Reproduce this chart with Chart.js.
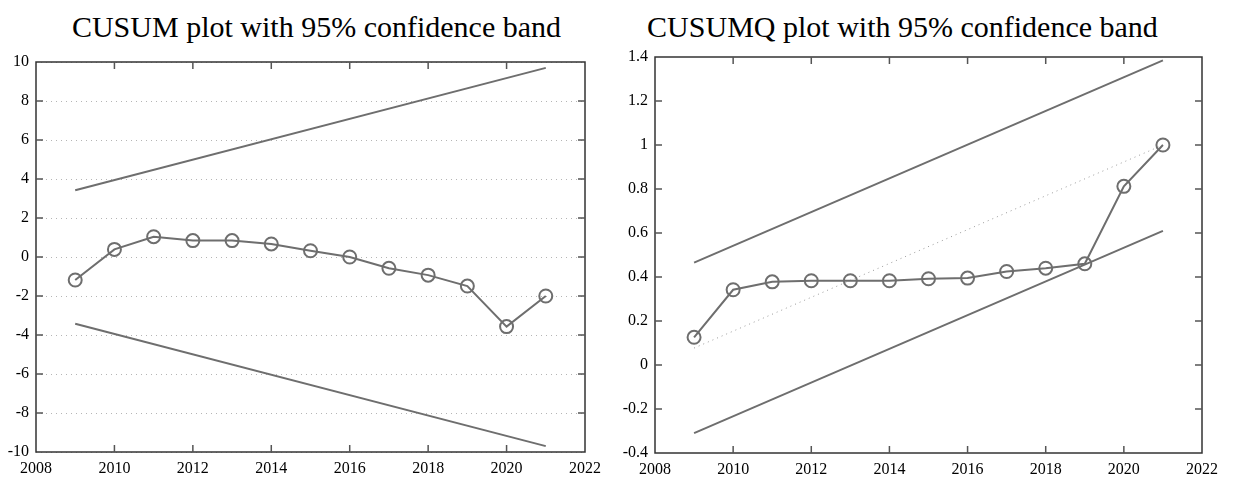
<!DOCTYPE html>
<html>
<head>
<meta charset="utf-8">
<script src="https://cdn.jsdelivr.net/npm/chart.js@4"></script>
<style>
  body { margin: 0; background: #fff; width: 1234px; height: 491px; overflow: hidden; position: relative; }
  .titulo { position: absolute; top: 12px; width: 617px; text-align: center;
            font-family: "Liberation Serif", "DejaVu Serif", serif; font-size: 30px; line-height: 30px; color: #000; }
  .painel { position: absolute; top: 0; width: 617px; height: 491px; }
</style>
</head>
<body>
<div class="titulo" style="left:8px">CUSUM plot with 95% confidence band</div>
<div class="titulo" style="left:594px">CUSUMQ plot with 95% confidence band</div>
<div class="painel" style="left:0"><canvas id="chartCusum" width="617" height="491"></canvas></div>
<div class="painel" style="left:617px"><canvas id="chartCusumq" width="617" height="491"></canvas></div>

<script>
// Dados
const years = [2009, 2010, 2011, 2012, 2013, 2014, 2015, 2016, 2017, 2018, 2019, 2020, 2021];
const cusum = [-1.18, 0.39, 1.04, 0.84, 0.84, 0.67, 0.32, 0.0, -0.58, -0.93, -1.49, -3.57, -2.0];
const cusumUpper = [3.42, 9.7];   // primeiro e último ano
const cusumLower = [-3.42, -9.7];
const cusumq = [0.126, 0.342, 0.378, 0.383, 0.383, 0.383, 0.392, 0.395, 0.425, 0.44, 0.46, 0.812, 1.0];
const cusumqUpper = [0.465, 1.385];
const cusumqLower = [-0.31, 0.61];
const cusumqMean = [0.077, 1.0];

const xTicks = [2008, 2010, 2012, 2014, 2016, 2018, 2020, 2022];
const cusumYTicks = [-10, -8, -6, -4, -2, 0, 2, 4, 6, 8, 10];
const cusumqYTicks = [-0.4, -0.2, 0, 0.2, 0.4, 0.6, 0.8, 1, 1.2, 1.4];

const cinza = '#6e6e6e';
Chart.defaults.font.family = 'Liberation Serif, serif';
const fonteTicks = { family: 'Liberation Serif, serif', size: 16 };

const pares = (xs, ys) => xs.map((x, i) => ({ x: x, y: ys[i] }));
const extremos = ys => [{ x: years[0], y: ys[0] }, { x: years[years.length - 1], y: ys[1] }];

// Moldura estilo gnuplot: caixa e ticks para dentro nos quatro lados
const moldura = {
    id: 'moldura',
    afterDraw(chart) {
        const { ctx, chartArea: a, scales } = chart;
        ctx.save();
        ctx.strokeStyle = '#333';
        ctx.lineWidth = 1.5;
        ctx.strokeRect(a.left, a.top, a.right - a.left, a.bottom - a.top);
        ctx.strokeStyle = '#555';
        ctx.lineWidth = 1.5;
        const t = 7;
        ctx.beginPath();
        scales.x.ticks.forEach(tk => {
            const px = scales.x.getPixelForValue(tk.value);
            if (px <= a.left + 1 || px >= a.right - 1) return;
            ctx.moveTo(px, a.bottom); ctx.lineTo(px, a.bottom - t);
            ctx.moveTo(px, a.top); ctx.lineTo(px, a.top + t);
        });
        scales.y.ticks.forEach(tk => {
            const py = scales.y.getPixelForValue(tk.value);
            if (py <= a.top + 1 || py >= a.bottom - 1) return;
            ctx.moveTo(a.left, py); ctx.lineTo(a.left + t, py);
            ctx.moveTo(a.right, py); ctx.lineTo(a.right - t, py);
        });
        ctx.stroke();
        ctx.restore();
    }
};

function criarGrafico(id, serie, upper, lower, mean, yTicks, area, comGrade) {
    const datasets = [{
        data: pares(years, serie),
        borderColor: cinza,
        borderWidth: 2,
        pointRadius: 6.5,
        pointBorderWidth: 2,
        pointBorderColor: cinza,
        pointBackgroundColor: 'rgba(255,255,255,0)'
    }, {
        data: extremos(upper), borderColor: cinza, borderWidth: 2, pointRadius: 0
    }, {
        data: extremos(lower), borderColor: cinza, borderWidth: 2, pointRadius: 0
    }];
    if (mean) {
        datasets.push({
            data: extremos(mean), borderColor: '#999', borderWidth: 1,
            borderDash: [1, 4], pointRadius: 0
        });
    }
    return new Chart(document.getElementById(id), {
        type: 'line',
        data: { datasets: datasets },
        options: {
            responsive: false,
            animation: false,
            layout: { padding: { top: area.top, right: area.right, left: 0, bottom: 0 } },
            plugins: { legend: { display: false }, tooltip: { enabled: false } },
            scales: {
                x: {
                    type: 'linear',
                    min: xTicks[0], max: xTicks[xTicks.length - 1],
                    afterBuildTicks: s => { s.ticks = xTicks.map(v => ({ value: v })); },
                    afterFit: s => { s.height = area.xh; },
                    ticks: { color: '#000', font: fonteTicks, padding: 7, maxRotation: 0, autoSkip: false,
                             callback: v => String(v) },
                    grid: { display: false, drawTicks: false },
                    border: { display: false }
                },
                y: {
                    min: yTicks[0], max: yTicks[yTicks.length - 1],
                    afterBuildTicks: s => { s.ticks = yTicks.map(v => ({ value: v })); },
                    afterFit: s => { s.width = area.yw; },
                    ticks: { color: '#000', font: fonteTicks, padding: 7, autoSkip: false,
                             callback: v => String(v) },
                    grid: { display: comGrade, drawTicks: false, color: '#b5b5b5', lineWidth: 1 },
                    border: { display: false, dash: [1, 4] }
                }
            }
        },
        plugins: [moldura]
    });
}

criarGrafico('chartCusum', cusum, cusumUpper, cusumLower, null, cusumYTicks,
    { top: 62, right: 32, yw: 36, xh: 39 }, true);
criarGrafico('chartCusumq', cusumq, cusumqUpper, cusumqLower, cusumqMean, cusumqYTicks,
    { top: 57, right: 32, yw: 38, xh: 38 }, false);
</script>
</body>
</html>
